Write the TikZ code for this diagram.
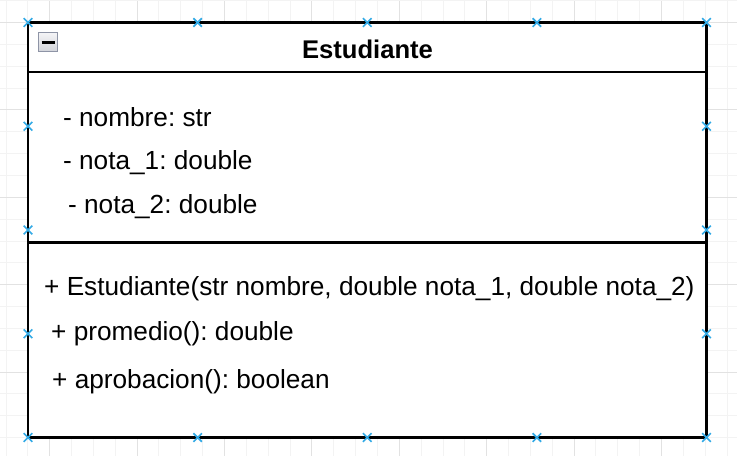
\documentclass[tikz,border=0pt]{standalone}
\usepackage{fontspec}
\setmainfont{Liberation Sans}
\frenchspacing
\usetikzlibrary{shapes.misc}
\definecolor{gridminor}{HTML}{F3F3F3}
\definecolor{gridmajor}{HTML}{E2E2E2}
\definecolor{handle}{HTML}{33AAE6}
\definecolor{iconborder}{HTML}{8E94A6}
\definecolor{iconlight}{HTML}{F4F4F6}
\definecolor{icondark}{HTML}{D2D4DA}
\tikzset{
  minorline/.style={draw=gridminor, line width=1pt},
  majorline/.style={draw=gridmajor, line width=1pt},
  classbox/.style={draw=black, line width=2.2pt, rectangle, inner sep=0pt},
  sepline/.style={draw=black, line width=2.2pt},
  member/.style={anchor=base west, inner sep=0pt, font=\fontsize{26.2}{30}\selectfont},
  titletext/.style={anchor=base, inner sep=0pt, font=\fontsize{25.6}{30}\selectfont\bfseries},
  handlemark/.style={cross out, draw=handle, line width=1.6pt, minimum size=7pt, inner sep=0pt},
}
\begin{document}
\begin{tikzpicture}[x=1pt, y=-1pt]
\useasboundingbox (0,0) rectangle (737,456);
\fill[white] (0,0) rectangle (737,456);
% grid
\foreach \i in {-3,...,31} {
  \pgfmathsetmacro{\gx}{49.7+21.85*\i}
  \pgfmathtruncatemacro{\m}{mod(\i+40,4)}
  \ifnum\m=0
    \draw[majorline] (\gx,0) -- (\gx,456);
  \else
    \draw[minorline] (\gx,0) -- (\gx,456);
  \fi
}
\foreach \j in {-1,...,20} {
  \pgfmathsetmacro{\gy}{22.5+21.85*\j}
  \pgfmathtruncatemacro{\m}{mod(\j+40,4)}
  \ifnum\m=0
    \draw[majorline] (0,\gy) -- (737,\gy);
  \else
    \draw[minorline] (0,\gy) -- (737,\gy);
  \fi
}
% class box
\node[classbox, minimum width=678.5pt, minimum height=415pt, fill=white] (cls) at (367.25,230) {};
\coordinate (h1) at (28,72);
\coordinate (h2) at (706.5,72);
\coordinate (s1) at (28,242.5);
\coordinate (s2) at (706.5,242.5);
\draw[sepline] (h1) -- (h2);
\draw[sepline] (s1) -- (s2);
% collapse icon
\node[draw=iconborder, line width=1.2pt, rectangle, minimum size=19pt, inner sep=0pt,
      top color=iconlight, bottom color=icondark] (icon) at (48,42.2) {};
\coordinate (m1) at (41.5,42.5);
\coordinate (m2) at (54.5,42.5);
\draw[black, line width=2.6pt] (m1) -- (m2);
% title
\node[titletext] (title) at (367.5,58.5) {Estudiante};
% attributes
\node[member] (a1) at (63,126) {- nombre: str};
\node[member] (a2) at (63,169) {- nota\_1: double};
\node[member] (a3) at (68,213) {- nota\_2: double};
% methods
\node[member] (o1) at (44,295) {+ Estudiante(str nombre, double nota\_1, double nota\_2)};
\node[member] (o2) at (51,340) {+ promedio(): double};
\node[member] (o3) at (52,388) {+ aprobacion(): boolean};
% selection handles
\foreach \hx [count=\k] in {28,197.625,367.25,536.875,706.5} {
  \node[handlemark] (ht\k) at (\hx,22.5) {};
  \node[handlemark] (hb\k) at (\hx,437.5) {};
}
\foreach \hy [count=\k] in {126.25,230,333.75} {
  \node[handlemark] (hl\k) at (28,\hy) {};
  \node[handlemark] (hr\k) at (706.5,\hy) {};
}
\end{tikzpicture}
\end{document}
